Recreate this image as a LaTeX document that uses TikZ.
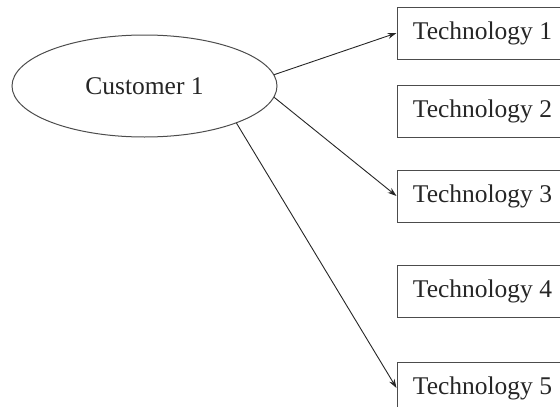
\documentclass[tikz,border=0pt]{standalone}
\usepackage{fontspec}
\setmainfont{Liberation Serif}
\usetikzlibrary{shapes.geometric,arrows.meta}
\begin{document}
\begin{tikzpicture}[x=1pt,y=-1pt,
  lbl/.style={font=\fontsize{25.5}{28}\selectfont, text=black!85},
  techbox/.style={draw=black!70, line width=1pt, rectangle, minimum width=171pt, minimum height=52pt, inner sep=0pt, lbl},
  custell/.style={draw=black!70, line width=1pt, ellipse, minimum width=265pt, minimum height=102pt, inner sep=0pt, lbl},
  conn/.style={draw=black!85, line width=0.9pt, -{Stealth[length=9pt,width=6pt]}}]
\useasboundingbox (0,0) rectangle (560,407);
\clip (0,0) rectangle (560,407);
\node[custell] (c1) at (144.5,86) {Customer 1};
\node[techbox] (t1) at (482.5,33) {Technology 1};
\node[techbox] (t2) at (482.5,111) {Technology 2};
\node[techbox] (t3) at (482.5,196) {Technology 3};
\node[techbox] (t4) at (482.5,291.5) {Technology 4};
\node[techbox] (t5) at (482.5,388) {Technology 5};
\draw[conn] (c1.5.8) -- (t1.west);
\draw[conn] (c1.-5.3) -- (t3.west);
\draw[conn] (c1.-22.6) -- (t5.west);
\end{tikzpicture}
\end{document}
